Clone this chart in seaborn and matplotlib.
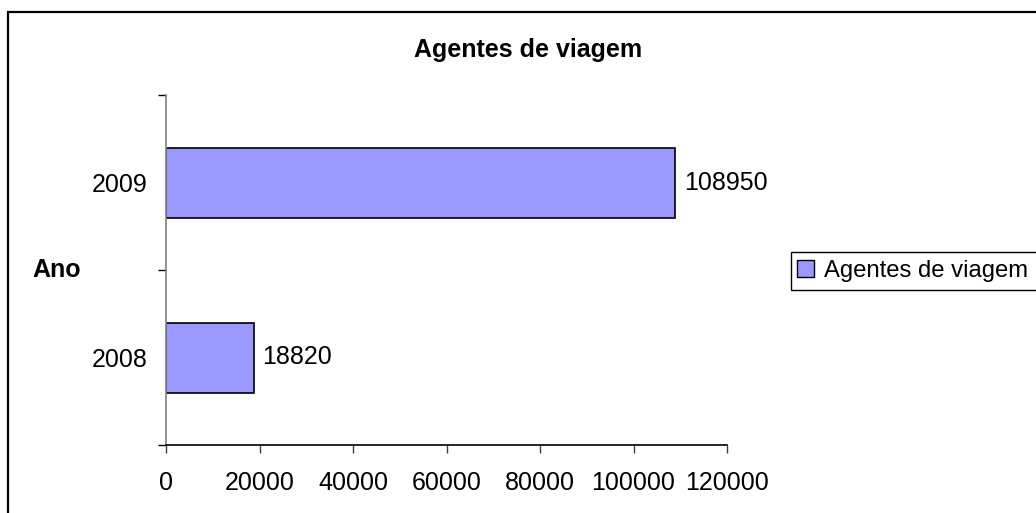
import matplotlib
matplotlib.use("Agg")
import matplotlib.pyplot as plt
import seaborn as sns
import pandas as pd
from matplotlib.patches import Rectangle, Patch

years = ["2009", "2008"]
values = [108950, 18820]
series_name = "Agentes de viagem"
x_ticks = [0, 20000, 40000, 60000, 80000, 100000, 120000]

sns.set_theme(style="white")
plt.rcParams["font.family"] = ["Liberation Sans", "DejaVu Sans"]
plt.rcParams["text.color"] = "black"
plt.rcParams["xtick.color"] = "black"
plt.rcParams["ytick.color"] = "black"
plt.rcParams["xtick.labelcolor"] = "black"
plt.rcParams["ytick.labelcolor"] = "black"

df = pd.DataFrame({"Ano": years, "Valor": values})

FS = 18
W, H = 1036, 513
fig = plt.figure(figsize=(W / 100, H / 100), dpi=100)
fig.patch.set_facecolor("white")
ax = fig.add_axes([166 / W, 1 - 445 / H, (727 - 166) / W, (445 - 95) / H])

bar_color = "#9999FF"
sns.barplot(data=df, x="Valor", y="Ano", order=years, orient="h",
            color=bar_color, saturation=1, width=0.4,
            edgecolor="black", linewidth=1.2, ax=ax)

ax.set_xlim(0, 120000)
ax.set_ylim(1.5, -0.5)
ax.set_xticks(x_ticks)
ax.set_xticklabels([str(t) for t in x_ticks], fontsize=FS)
ax.set_yticks([-0.5, 0.5, 1.5])
ax.set_yticklabels([])
ax.set_yticks([0, 1], minor=True)
ax.set_yticklabels(years, minor=True, fontsize=FS)
ax.tick_params(axis="y", which="major", direction="out", length=6, width=1,
               color="black", left=True)
ax.tick_params(axis="y", which="minor", length=0, pad=13)
ax.tick_params(axis="x", direction="out", length=6, width=1, color="#404040",
               bottom=True, pad=13)
ax.set_xlabel("")
ax.set_ylabel("")

for s in ["top", "right"]:
    ax.spines[s].set_visible(False)
ax.spines["left"].set_color("#808080")
ax.spines["left"].set_linewidth(1.2)
ax.spines["bottom"].set_color("black")
ax.spines["bottom"].set_linewidth(1.2)
ax.grid(False)

for i, v in enumerate(values):
    ax.annotate(str(v), xy=(v, i), xytext=(6, 0), textcoords="offset points",
                va="center", ha="left", fontsize=FS, color="black")

fig.text(528 / W, 1 - 50 / H, series_name, ha="center", va="center",
         fontsize=FS, fontweight="bold", color="black")
fig.text(32 / W, 1 - 270 / H, "Ano", ha="left", va="center",
         fontsize=FS, fontweight="bold", color="black")

# legend (its box runs off the right edge of the chart, as in the reference)
handle = Patch(facecolor=bar_color, edgecolor="black", linewidth=1)
leg = fig.legend([handle], [series_name], loc="center left",
                 bbox_to_anchor=(791 / W, 1 - 271 / H), fontsize=17.2,
                 frameon=False, borderpad=0.25,
                 handlelength=0.7, handleheight=0.7, handletextpad=0.45,
                 borderaxespad=0, labelcolor="black")
fig.patches.append(Rectangle((791 / W, 1 - 290 / H), 0.5, 38 / H,
                             transform=fig.transFigure, fill=False,
                             edgecolor="black", linewidth=1, zorder=9))

fig.patches.append(Rectangle((8 / W, -0.2), 1.5, 1 - 12 / H + 0.2,
                             transform=fig.transFigure, fill=False,
                             edgecolor="black", linewidth=1.6, zorder=10))

fig.savefig("out.png", dpi=100)
